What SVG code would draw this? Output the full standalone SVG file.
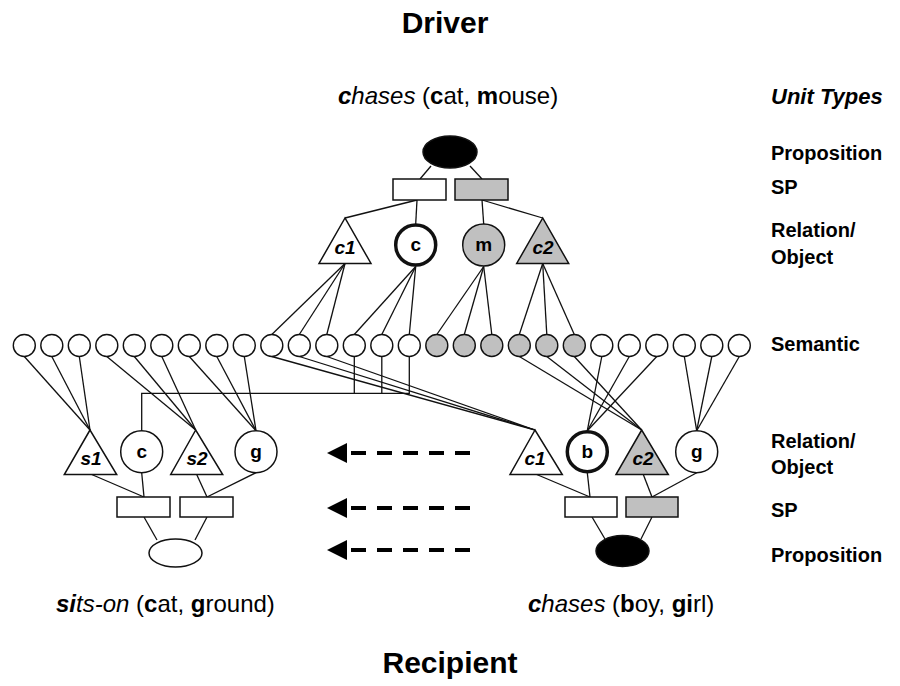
<svg xmlns="http://www.w3.org/2000/svg" width="900" height="686" viewBox="0 0 900 686">
<style>
.ln{stroke:#111;stroke-width:1.3;fill:none}
.sh{stroke:#111;stroke-width:1.5;fill:#fff}
.gr{fill:#c0c0c0}
.bk{fill:#000}
.thick{stroke-width:3.5}
.sem{stroke:#111;stroke-width:1.4;fill:#fff}
.semg{stroke:#111;stroke-width:1.4;fill:#c0c0c0}
.lbl{font-family:'Liberation Sans',Arial,sans-serif;font-weight:bold;font-size:20px;fill:#000}
.hdr{font-family:'Liberation Sans',Arial,sans-serif;font-weight:bold;font-style:italic;font-size:22px;fill:#000}
.nl{font-family:'Liberation Sans',Arial,sans-serif;font-weight:bold;font-size:19px;fill:#000;text-anchor:middle}
.it{font-style:italic}
.ttl{font-family:'Liberation Sans',Arial,sans-serif;font-size:24px;fill:#000}
.big{font-family:'Liberation Sans',Arial,sans-serif;font-weight:bold;font-size:30px;fill:#000;text-anchor:middle}
.dash{stroke:#000;stroke-width:4;stroke-dasharray:15 11;fill:none}
</style>

<g id="connectors">
  <line class="ln" x1="431" y1="166" x2="420" y2="179"/>
  <line class="ln" x1="470" y1="166" x2="482" y2="179"/>
  <line class="ln" x1="417" y1="200" x2="345" y2="218"/>
  <line class="ln" x1="417" y1="200" x2="415.7" y2="224"/>
  <line class="ln" x1="482" y1="200" x2="483.7" y2="224"/>
  <line class="ln" x1="482" y1="200" x2="542.7" y2="218"/>
  <line class="ln" x1="345" y1="263.5" x2="271.8" y2="334.5"/>
  <line class="ln" x1="345" y1="263.5" x2="299.3" y2="334.5"/>
  <line class="ln" x1="345" y1="263.5" x2="326.8" y2="334.5"/>
  <line class="ln" x1="415.7" y1="266.5" x2="354.3" y2="334.5"/>
  <line class="ln" x1="415.7" y1="266.5" x2="381.8" y2="334.5"/>
  <line class="ln" x1="415.7" y1="266.5" x2="409.3" y2="334.5"/>
  <line class="ln" x1="483.7" y1="266.5" x2="436.8" y2="334.5"/>
  <line class="ln" x1="483.7" y1="266.5" x2="464.3" y2="334.5"/>
  <line class="ln" x1="483.7" y1="266.5" x2="491.8" y2="334.5"/>
  <line class="ln" x1="542.7" y1="263.5" x2="519.3" y2="334.5"/>
  <line class="ln" x1="542.7" y1="263.5" x2="546.8" y2="334.5"/>
  <line class="ln" x1="542.7" y1="263.5" x2="574.3" y2="334.5"/>

  <line class="ln" x1="24.3" y1="356.5" x2="90" y2="430"/>
  <line class="ln" x1="51.8" y1="356.5" x2="90" y2="430"/>
  <line class="ln" x1="79.3" y1="356.5" x2="90" y2="430"/>
  <line class="ln" x1="106.8" y1="356.5" x2="195.7" y2="430"/>
  <line class="ln" x1="134.3" y1="356.5" x2="195.7" y2="430"/>
  <line class="ln" x1="161.8" y1="356.5" x2="195.7" y2="430"/>
  <line class="ln" x1="189.3" y1="356.5" x2="256" y2="430.7"/>
  <line class="ln" x1="216.8" y1="356.5" x2="256" y2="430.7"/>
  <line class="ln" x1="244.3" y1="356.5" x2="256" y2="430.7"/>
  <polyline class="ln" points="354.3,356.5 354.3,393.3"/>
  <polyline class="ln" points="381.8,356.5 381.8,393.3"/>
  <polyline class="ln" points="409.3,356.5 409.3,393.3 141.7,393.3 141.7,430.7"/>
  <line class="ln" x1="271.8" y1="356.5" x2="535" y2="430"/>
  <line class="ln" x1="299.3" y1="356.5" x2="535" y2="430"/>
  <line class="ln" x1="326.8" y1="356.5" x2="535" y2="430"/>
  <line class="ln" x1="519.3" y1="356.5" x2="641.7" y2="430"/>
  <line class="ln" x1="546.8" y1="356.5" x2="641.7" y2="430"/>
  <line class="ln" x1="574.3" y1="356.5" x2="641.7" y2="430"/>
  <line class="ln" x1="601.8" y1="356.5" x2="587.3" y2="430.7"/>
  <line class="ln" x1="629.3" y1="356.5" x2="587.3" y2="430.7"/>
  <line class="ln" x1="656.8" y1="356.5" x2="587.3" y2="430.7"/>
  <line class="ln" x1="684.3" y1="356.5" x2="696.7" y2="430.7"/>
  <line class="ln" x1="711.8" y1="356.5" x2="696.7" y2="430.7"/>
  <line class="ln" x1="739.3" y1="356.5" x2="696.7" y2="430.7"/>

  <line class="ln" x1="91.7" y1="474.5" x2="144" y2="497"/>
  <line class="ln" x1="141.7" y1="472.7" x2="144" y2="497"/>
  <line class="ln" x1="196.7" y1="474.5" x2="207" y2="497"/>
  <line class="ln" x1="256" y1="472.7" x2="207" y2="497"/>
  <line class="ln" x1="144" y1="517" x2="157" y2="540"/>
  <line class="ln" x1="207" y1="517" x2="195" y2="540"/>
  <line class="ln" x1="536.7" y1="474.5" x2="590" y2="497"/>
  <line class="ln" x1="587.3" y1="472.7" x2="590" y2="497"/>
  <line class="ln" x1="643.3" y1="474.5" x2="652" y2="497"/>
  <line class="ln" x1="696.7" y1="472.7" x2="652" y2="497"/>
  <line class="ln" x1="592" y1="517" x2="605" y2="539"/>
  <line class="ln" x1="652" y1="517" x2="641" y2="539"/>

  <line class="dash" x1="470" y1="453" x2="347" y2="453"/>
  <polygon points="327,453 347,443 347,463" fill="#000"/>
  <line class="dash" x1="470" y1="508" x2="347" y2="508"/>
  <polygon points="327,508 347,498 347,518" fill="#000"/>
  <line class="dash" x1="470" y1="550" x2="347" y2="550"/>
  <polygon points="327,550 347,540 347,560" fill="#000"/>
</g>

<g id="d-prop"><ellipse class="sh bk" cx="450" cy="152" rx="27" ry="16"/></g>
<g id="d-sp1"><rect class="sh" x="393" y="179" width="53" height="21"/></g>
<g id="d-sp2"><rect class="sh gr" x="455" y="179" width="53" height="21"/></g>
<g id="d-c1"><polygon class="sh" points="345,218 319,263.5 371,263.5"/><text class="nl it" x="345" y="254">c1</text></g>
<g id="d-c"><circle class="sh thick" cx="415.7" cy="245" r="20"/><text class="nl" x="415.7" y="251">c</text></g>
<g id="d-m"><circle class="sh gr" cx="483.7" cy="245" r="21"/><text class="nl" x="483.7" y="251">m</text></g>
<g id="d-c2"><polygon class="sh gr" points="542.7,218 516.7,263.5 568.7,263.5"/><text class="nl it" x="543" y="254">c2</text></g>

<g id="sem0"><circle class="sem" cx="24.3" cy="345.5" r="11"/></g>
<g id="sem1"><circle class="sem" cx="51.8" cy="345.5" r="11"/></g>
<g id="sem2"><circle class="sem" cx="79.3" cy="345.5" r="11"/></g>
<g id="sem3"><circle class="sem" cx="106.8" cy="345.5" r="11"/></g>
<g id="sem4"><circle class="sem" cx="134.3" cy="345.5" r="11"/></g>
<g id="sem5"><circle class="sem" cx="161.8" cy="345.5" r="11"/></g>
<g id="sem6"><circle class="sem" cx="189.3" cy="345.5" r="11"/></g>
<g id="sem7"><circle class="sem" cx="216.8" cy="345.5" r="11"/></g>
<g id="sem8"><circle class="sem" cx="244.3" cy="345.5" r="11"/></g>
<g id="sem9"><circle class="sem" cx="271.8" cy="345.5" r="11"/></g>
<g id="sem10"><circle class="sem" cx="299.3" cy="345.5" r="11"/></g>
<g id="sem11"><circle class="sem" cx="326.8" cy="345.5" r="11"/></g>
<g id="sem12"><circle class="sem" cx="354.3" cy="345.5" r="11"/></g>
<g id="sem13"><circle class="sem" cx="381.8" cy="345.5" r="11"/></g>
<g id="sem14"><circle class="sem" cx="409.3" cy="345.5" r="11"/></g>
<g id="sem15"><circle class="semg" cx="436.8" cy="345.5" r="11"/></g>
<g id="sem16"><circle class="semg" cx="464.3" cy="345.5" r="11"/></g>
<g id="sem17"><circle class="semg" cx="491.8" cy="345.5" r="11"/></g>
<g id="sem18"><circle class="semg" cx="519.3" cy="345.5" r="11"/></g>
<g id="sem19"><circle class="semg" cx="546.8" cy="345.5" r="11"/></g>
<g id="sem20"><circle class="semg" cx="574.3" cy="345.5" r="11"/></g>
<g id="sem21"><circle class="sem" cx="601.8" cy="345.5" r="11"/></g>
<g id="sem22"><circle class="sem" cx="629.3" cy="345.5" r="11"/></g>
<g id="sem23"><circle class="sem" cx="656.8" cy="345.5" r="11"/></g>
<g id="sem24"><circle class="sem" cx="684.3" cy="345.5" r="11"/></g>
<g id="sem25"><circle class="sem" cx="711.8" cy="345.5" r="11"/></g>
<g id="sem26"><circle class="sem" cx="739.3" cy="345.5" r="11"/></g>

<g id="r1-s1"><polygon class="sh" points="90,430 64.3,474.5 116.7,474.5"/><text class="nl it" x="91" y="465">s1</text></g>
<g id="r1-c"><circle class="sh" cx="141.7" cy="451.7" r="21"/><text class="nl" x="141.7" y="458">c</text></g>
<g id="r1-s2"><polygon class="sh" points="195.7,430 170.7,474.5 222.7,474.5"/><text class="nl it" x="197" y="465">s2</text></g>
<g id="r1-g"><circle class="sh" cx="256" cy="451.7" r="21"/><text class="nl" x="256" y="458">g</text></g>
<g id="r1-sp1"><rect class="sh" x="117" y="497" width="53" height="20"/></g>
<g id="r1-sp2"><rect class="sh" x="180" y="497" width="53" height="20"/></g>
<g id="r1-prop"><ellipse class="sh" cx="175.5" cy="553" rx="26.5" ry="14"/></g>

<g id="r2-c1"><polygon class="sh" points="535,430 510,474.5 562.3,474.5"/><text class="nl it" x="535" y="465">c1</text></g>
<g id="r2-b"><circle class="sh thick" cx="587.3" cy="451.7" r="20"/><text class="nl" x="587.3" y="458">b</text></g>
<g id="r2-c2"><polygon class="sh gr" points="641.7,430 616,474.5 668.3,474.5"/><text class="nl it" x="643" y="465">c2</text></g>
<g id="r2-g"><circle class="sh" cx="696.7" cy="451.7" r="21"/><text class="nl" x="696.7" y="458">g</text></g>
<g id="r2-sp1"><rect class="sh" x="565" y="497" width="52" height="20"/></g>
<g id="r2-sp2"><rect class="sh gr" x="626" y="497" width="52" height="20"/></g>
<g id="r2-prop"><ellipse class="sh bk" cx="622.5" cy="551" rx="26.5" ry="15.5"/></g>

<text class="big" x="445" y="33">Driver</text>
<text class="big" x="450" y="673">Recipient</text>
<text class="ttl" x="338" y="104"><tspan font-weight="bold" font-style="italic">c</tspan><tspan font-style="italic">hases</tspan> (<tspan font-weight="bold">c</tspan>at, <tspan font-weight="bold">m</tspan>ouse)</text>
<text class="ttl" x="56" y="612"><tspan font-weight="bold" font-style="italic">si</tspan><tspan font-style="italic">ts-on</tspan> (<tspan font-weight="bold">c</tspan>at, <tspan font-weight="bold">g</tspan>round)</text>
<text class="ttl" x="528" y="612"><tspan font-weight="bold" font-style="italic">c</tspan><tspan font-style="italic">hases</tspan> (<tspan font-weight="bold">b</tspan>oy, <tspan font-weight="bold">gi</tspan>rl)</text>

<text class="hdr" x="771" y="104">Unit Types</text>
<text class="lbl" x="771" y="160">Proposition</text>
<text class="lbl" x="771" y="194">SP</text>
<text class="lbl" x="771" y="237">Relation/</text>
<text class="lbl" x="771" y="264">Object</text>
<text class="lbl" x="771" y="351">Semantic</text>
<text class="lbl" x="771" y="448">Relation/</text>
<text class="lbl" x="771" y="474">Object</text>
<text class="lbl" x="771" y="517">SP</text>
<text class="lbl" x="771" y="562">Proposition</text>
</svg>
